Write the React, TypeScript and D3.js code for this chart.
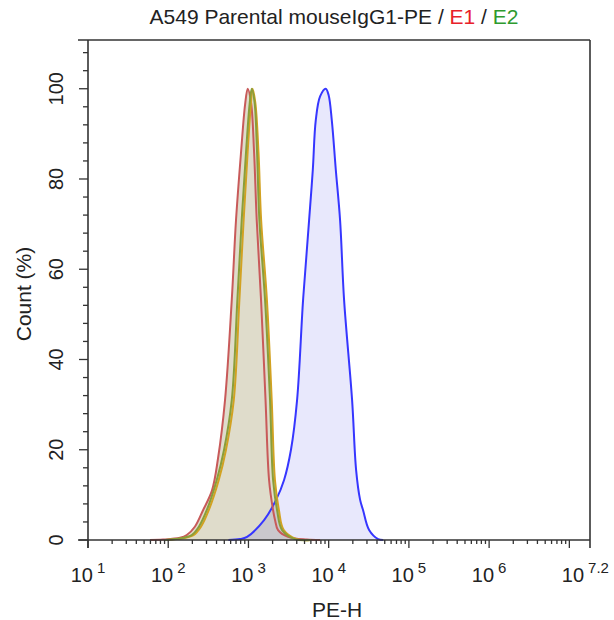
import React, { useRef, useEffect } from 'react';
import * as d3 from 'd3';

// log10(PE-H) and count (%)
const blueLog = [2.75, 2.895, 2.983, 3.195, 3.344, 3.444, 3.53, 3.606, 3.681, 3.756, 3.802, 3.839, 3.893, 3.964, 3.999, 4.039, 4.089, 4.142, 4.192, 4.292, 4.342, 4.392, 4.429, 4.504, 4.616, 4.68];
const bluePct = [0, 0.2, 0.7, 4.4, 8.9, 13.3, 20, 31, 53.2, 70.9, 82, 93, 98.3, 100, 98.6, 93, 82, 70.9, 53.2, 31, 15.5, 8.9, 6.6, 2.2, 0.2, 0];

const e1Log = [1.773, 1.935, 2.147, 2.231, 2.334, 2.434, 2.546, 2.62, 2.708, 2.792, 2.845, 2.908, 2.958, 2.991, 3.032, 3.07, 3.103, 3.157, 3.213, 3.257, 3.307, 3.332, 3.369, 3.494, 3.727, 3.893];
const e1Pct = [0, 0.1, 0.5, 1.1, 3, 6.6, 11, 18, 31, 53.2, 70.9, 86, 96.5, 100, 97, 86, 70.9, 53.2, 31, 13.3, 6.6, 4.4, 2.2, 0.7, 0.1, 0];

const e2Log = [1.96, 2.085, 2.293, 2.384, 2.48, 2.605, 2.696, 2.792, 2.862, 2.916, 2.97, 3.014, 3.041, 3.076, 3.107, 3.136, 3.207, 3.269, 3.307, 3.357, 3.419, 3.581, 3.768];
const e2Pct = [0, 0.2, 1.1, 3, 6.6, 13.3, 20, 31, 53.2, 70.9, 86, 96.5, 100, 97, 86, 70.9, 53.2, 31, 13.3, 6.6, 2.2, 0.2, 0];

const isoLog = [1.98, 2.11, 2.315, 2.41, 2.505, 2.63, 2.72, 2.817, 2.887, 2.94, 2.99, 3.03, 3.05, 3.085, 3.125, 3.158, 3.23, 3.29, 3.33, 3.38, 3.44, 3.6, 3.78];
const isoPct = [0, 0.2, 1.1, 3, 6.6, 13.3, 20, 31, 53.2, 70.9, 86, 96.5, 100, 97, 86, 70.9, 53.2, 31, 13.3, 6.6, 2.2, 0.2, 0];

const xTickExp = [1, 2, 3, 4, 5, 6, 7.2];
const xTickLabels = ['1', '2', '3', '4', '5', '6', '7.2'];
const yTicks = [0, 20, 40, 60, 80, 100];

const W = 614;
const H = 620;
const margin = { top: 40, right: 24, bottom: 80, left: 88 };

const App = () => {
  const ref = useRef<SVGSVGElement>(null);

  useEffect(() => {
    const svg = d3.select(ref.current);
    svg.selectAll('*').remove();

    const x0 = margin.left, x1 = W - margin.right, yb = H - margin.bottom, yt = margin.top;

    const x = d3.scaleLog()
      .domain([10, Math.pow(10, 7.2)])
      .range([x0, x1 - 4.6]);
    const y = d3.scaleLinear()
      .domain([0, 110.8])
      .range([yb, yt]);

    const toPts = (lg: number[], pct: number[]) => lg.map((l, i) => ({ v: Math.pow(10, l), c: pct[i] }));
    const blue = toPts(blueLog, bluePct);
    const e1 = toPts(e1Log, e1Pct);
    const e2 = toPts(e2Log, e2Pct);
    const iso = toPts(isoLog, isoPct);

    const curve = d3.curveCatmullRom.alpha(0.5);
    const area = d3.area<any>()
      .x(d => x(d.v))
      .y0(y(0))
      .y1(d => Math.min(y(d.c), yb))
      .curve(curve);
    const line = d3.line<any>()
      .x(d => x(d.v))
      .y(d => y(d.c))
      .curve(curve);

    const font = '"Liberation Sans", Arial, sans-serif';

    // fills
    [e1, e2, iso].forEach(s => {
      svg.append('path').datum(s).attr('d', area).attr('fill', '#dfdccb');
    });
    svg.append('path').datum(blue).attr('d', area).attr('fill', 'rgb(0,0,222)').attr('fill-opacity', 0.09);

    // outlines
    const lines: [any[], string][] = [[blue, '#3636ff'], [e1, '#c85a5a'], [iso, '#d2a222'], [e2, '#8a9e3a']];
    lines.forEach(([s, col]) => {
      svg.append('path').datum(s).attr('d', line)
        .attr('fill', 'none').attr('stroke', col).attr('stroke-width', 2);
    });

    // frame
    const axisCol = '#333';
    svg.append('line').attr('x1', x0 - 10).attr('x2', x1).attr('y1', yt).attr('y2', yt)
      .attr('stroke', axisCol).attr('stroke-width', 1.6);
    svg.append('line').attr('x1', x1).attr('x2', x1).attr('y1', yt).attr('y2', yb + 8)
      .attr('stroke', axisCol).attr('stroke-width', 1.6);
    svg.append('line').attr('x1', x0).attr('x2', x0).attr('y1', yt).attr('y2', yb + 8)
      .attr('stroke', axisCol).attr('stroke-width', 1.6);
    svg.append('line').attr('x1', x0 - 10).attr('x2', x1).attr('y1', yb).attr('y2', yb)
      .attr('stroke', axisCol).attr('stroke-width', 1.6);

    // y ticks
    d3.range(0, 110, 4).forEach(t => {
      const major = t % 20 === 0;
      svg.append('line').attr('x1', x0 - (major ? 9 : 5)).attr('x2', x0)
        .attr('y1', y(t)).attr('y2', y(t))
        .attr('stroke', axisCol).attr('stroke-width', 1.3);
    });
    yTicks.forEach(t => {
      svg.append('text')
        .attr('transform', `translate(63,${y(t)}) rotate(-90)`)
        .attr('text-anchor', 'middle')
        .attr('font-family', font).attr('font-size', 20).attr('fill', '#222')
        .text(String(t));
    });

    // x ticks
    for (let d = 1; d <= 7; d++) {
      for (let k = 1; k <= 9; k++) {
        const v = k * Math.pow(10, d);
        if (Math.log10(v) > 7.2) continue;
        const major = k === 1;
        svg.append('line').attr('x1', x(v)).attr('x2', x(v))
          .attr('y1', yb).attr('y2', yb + (major ? 8 : 4))
          .attr('stroke', axisCol).attr('stroke-width', 1.3);
      }
    }

    xTickExp.forEach((e, i) => {
      const t = svg.append('text')
        .attr('x', x(Math.pow(10, e))).attr('y', 582)
        .attr('text-anchor', 'middle')
        .attr('font-family', font).attr('font-size', 20).attr('fill', '#222');
      t.append('tspan').text('10');
      t.append('tspan').attr('dx', 4).attr('dy', -9).attr('font-size', 15).text(xTickLabels[i]);
    });

    // axis titles
    svg.append('text')
      .attr('x', 337).attr('y', 617)
      .attr('text-anchor', 'middle')
      .attr('font-family', font).attr('font-size', 21).attr('fill', '#222')
      .text('PE-H');
    svg.append('text')
      .attr('transform', `translate(31,${(yt + yb) / 2 + 4}) rotate(-90)`)
      .attr('text-anchor', 'middle')
      .attr('font-family', font).attr('font-size', 21).attr('fill', '#222')
      .text('Count (%)');

    // title
    const title = svg.append('text')
      .attr('x', 334).attr('y', 24)
      .attr('text-anchor', 'middle')
      .attr('font-family', font).attr('font-size', 21).attr('fill', '#222');
    title.append('tspan').text('A549 Parental mouseIgG1-PE / ');
    title.append('tspan').attr('fill', '#e8202a').text('E1');
    title.append('tspan').text(' / ');
    title.append('tspan').attr('fill', '#2e9a2e').text('E2');
  }, []);

  return (
    <svg
      ref={ref}
      width={W}
      height={H}
      style={{ position: 'absolute', left: 0, top: 0, background: '#fff' }}
    />
  );
};

export default App;
